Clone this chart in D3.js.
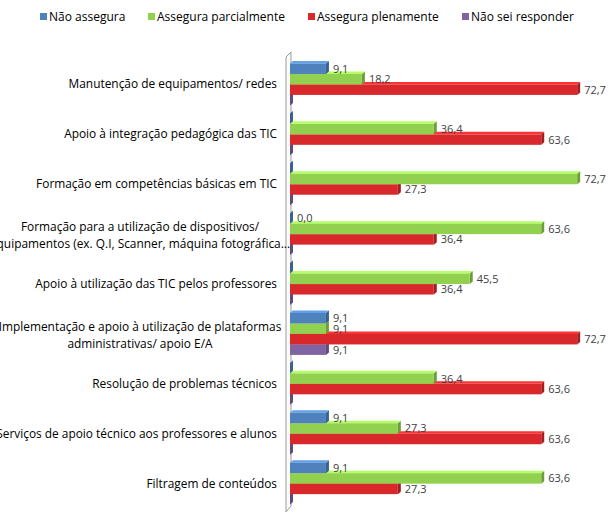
<!DOCTYPE html>
<html><head><meta charset="utf-8">
<script src="https://cdn.jsdelivr.net/npm/d3@7"></script>
<style>
body{margin:0;background:#fff;}
text{font-family:"Open Sans",sans-serif;fill:#000;}
</style></head>
<body><svg id="c" width="609" height="519"></svg>
<script>
const categories = [
  ["Manutenção de equipamentos/ redes"],
  ["Apoio à integração pedagógica das TIC"],
  ["Formação em competências básicas em TIC"],
  ["Formação para a utilização de dispositivos/","equipamentos (ex. Q.I, Scanner, máquina fotográfica..."],
  ["Apoio à utilização das TIC pelos professores"],
  ["Implementação e apoio à utilização de plataformas","administrativas/ apoio E/A"],
  ["Resolução de problemas técnicos"],
  ["Serviços de apoio técnico aos professores e alunos"],
  ["Filtragem de conteúdos"]
];
const seriesNames = ["Não assegura","Assegura parcialmente","Assegura plenamente","Não sei responder"];
const seriesColors = ["#4F81BD","#92D050","#D9282B","#8064A2"];
// null = no value (stub drawn, no label)
const naoAssegura   = [9.1, null, null, 0.0, null, 9.1, null, 9.1, 9.1];
const parcialmente  = [18.2, 36.4, 72.7, 63.6, 45.5, 9.1, 36.4, 27.3, 63.6];
const plenamente    = [72.7, 63.6, 27.3, 36.4, 36.4, 72.7, 63.6, 63.6, 27.3];
const naoSei        = [null, null, null, null, null, 9.1, null, null, null];
const seriesValues = [naoAssegura, parcialmente, plenamente, naoSei];
const xMax = 80;

const svg = d3.select("#c");
const x = d3.scaleLinear().domain([0, xMax]).range([290, 606]);
const y = d3.scaleBand().domain(d3.range(categories.length)).range([58.5, 509.6]).paddingInner(0.16).paddingOuter(0.1);
const ys = d3.scaleBand().domain(d3.range(4)).range([0, y.bandwidth()]);
const fmt = v => d3.format(".1f")(v).replace(".", ",");
const dx = 3, dy = 2.5;

// wall
const wallTop = 57, wallBot = 512;
svg.append("path")
  .attr("d", `M286,${wallTop} L${286+5},${wallTop-5} L${286+5},${wallBot-6} L286,${wallBot} Z`)
  .attr("fill", "#fbfbfb").attr("stroke", "#9a9a9a").attr("stroke-width", 1);

// bars
const g = svg.append("g");
categories.forEach((c, ci) => {
  for (let si = 3; si >= 0; si--) {
    const v = seriesValues[si][ci];
    const val = v == null ? 0 : v;
    const x0 = x(0), x1 = x(val);
    const y0 = y(ci) + ys(si), h = ys.bandwidth();
    const col = d3.color(seriesColors[si]);
    g.append("path").attr("d", `M${x1},${y0} L${x1+dx},${y0-dy} L${x1+dx},${y0+h-dy} L${x1},${y0+h} Z`)
      .attr("fill", col.darker(0.8));
    if (val > 0) {
      g.append("path").attr("d", `M${x0},${y0} L${x0+dx},${y0-dy} L${x1+dx},${y0-dy} L${x1},${y0} Z`)
        .attr("fill", col.brighter(0.6));
      g.append("rect").attr("x", x0).attr("y", y0).attr("width", x1 - x0).attr("height", h)
        .attr("fill", col);
    }
  }
});
// value labels
categories.forEach((c, ci) => {
  for (let si = 0; si < 4; si++) {
    const v = seriesValues[si][ci];
    if (v == null) continue;
    svg.append("text").attr("x", x(v) + 7).attr("y", y(ci) + ys(si) + ys.bandwidth()/2 + 1)
      .attr("dominant-baseline", "middle").attr("font-size", 11).style("fill", "#404040").text(fmt(v));
  }
});
// category labels
categories.forEach((lines, ci) => {
  const cy = y(ci) + y.bandwidth()/2;
  const t = svg.append("text").attr("font-size", 11.9);
  if (lines.length === 1) {
    t.attr("text-anchor", "end").attr("x", 277).attr("y", cy + 4).text(lines[0]);
  } else {
    t.attr("text-anchor", "middle");
    lines.forEach((l, li) => t.append("tspan").attr("x", 140).attr("y", cy - 3 + li*17).text(l));
  }
});
// legend
const legX = [40, 148, 308, 462];
seriesNames.forEach((n, i) => {
  svg.append("rect").attr("x", legX[i]).attr("y", 13).attr("width", 7).attr("height", 7).attr("fill", seriesColors[i]);
  svg.append("text").attr("x", legX[i] + 9).attr("y", 20.5).attr("font-size", 12).text(n);
});
</script></body></html>
